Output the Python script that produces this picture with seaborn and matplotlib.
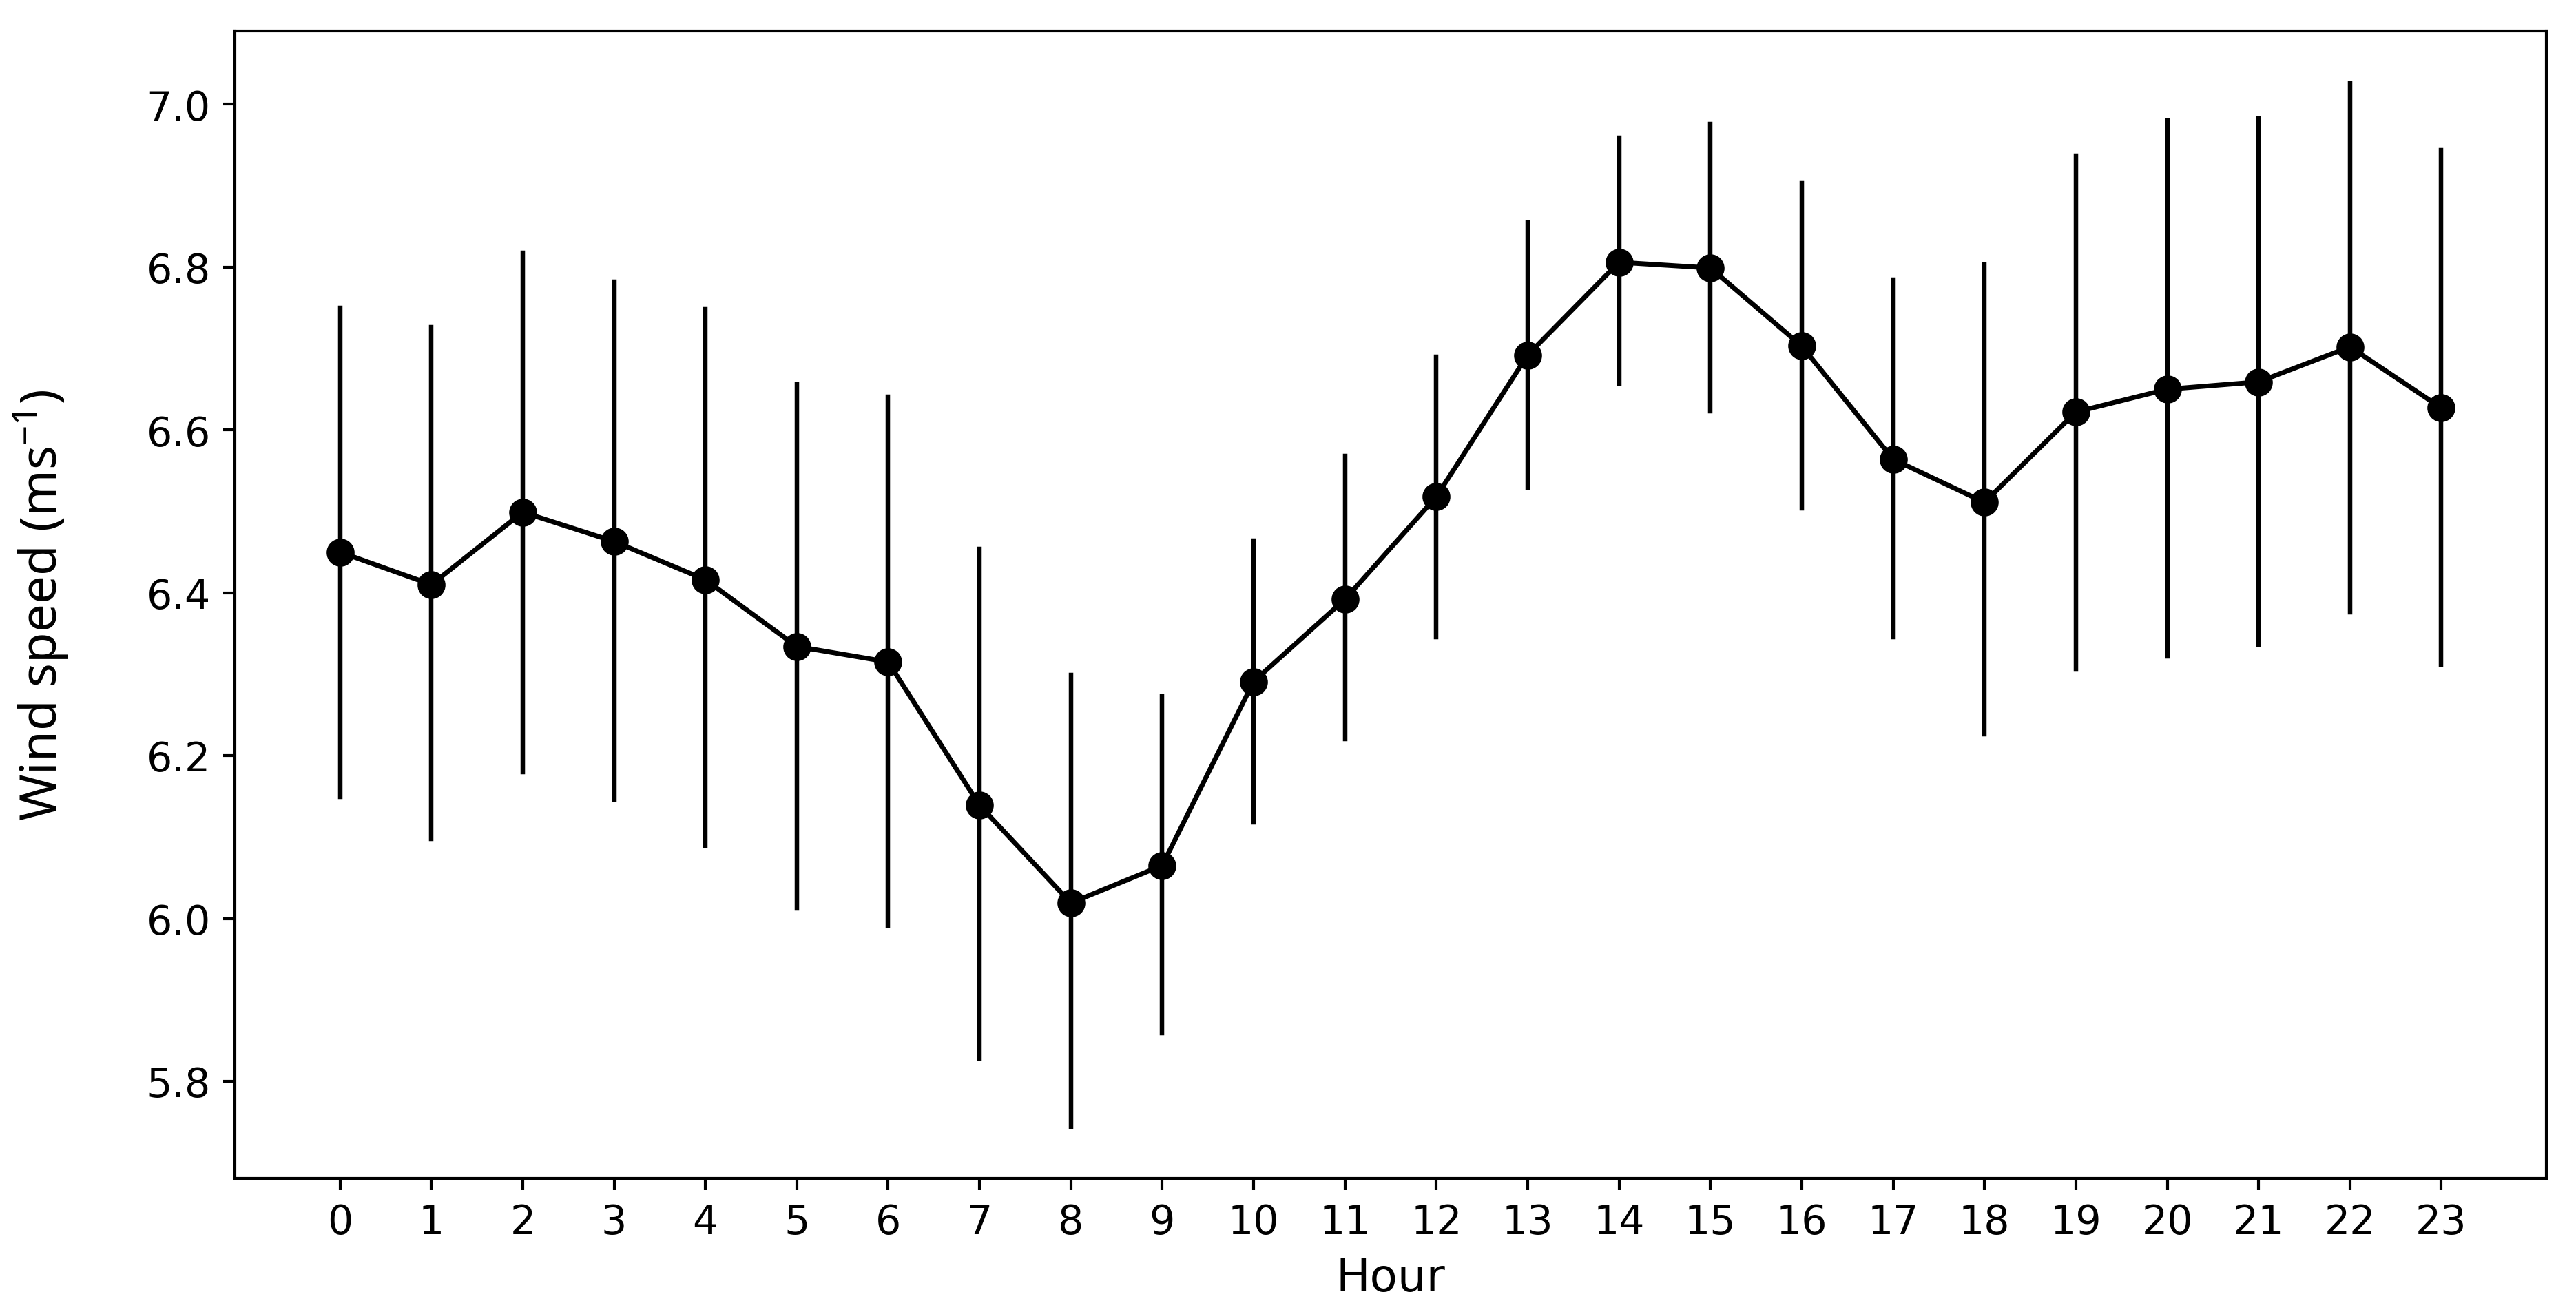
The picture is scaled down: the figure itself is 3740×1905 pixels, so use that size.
import matplotlib
matplotlib.use("Agg")
import matplotlib.pyplot as plt
import seaborn as sns
import pandas as pd

hours = list(range(24))
mean_speed = [6.450, 6.410, 6.499, 6.463, 6.416, 6.334, 6.315, 6.139, 6.019, 6.065,
              6.291, 6.392, 6.518, 6.692, 6.806, 6.799, 6.703, 6.564, 6.511, 6.622,
              6.650, 6.659, 6.702, 6.627]
upper_speed = [6.750, 6.726, 6.818, 6.782, 6.748, 6.656, 6.641, 6.454, 6.299, 6.273,
               6.464, 6.568, 6.690, 6.855, 6.959, 6.976, 6.903, 6.785, 6.803, 6.937,
               6.980, 6.983, 7.026, 6.944]
lower_speed = [6.149, 6.098, 6.180, 6.146, 6.089, 6.012, 5.991, 5.828, 5.744, 5.859,
               6.118, 6.220, 6.346, 6.529, 6.657, 6.623, 6.504, 6.346, 6.226, 6.306,
               6.322, 6.336, 6.376, 6.312]

plt.rcParams['font.family'] = ['DejaVu Sans']
plt.rcParams['mathtext.fontset'] = 'custom'
plt.rcParams['mathtext.rm'] = 'Noto Sans'
plt.rcParams['mathtext.it'] = 'Noto Sans:italic'
plt.rcParams['mathtext.bf'] = 'Noto Sans:bold'

# long-form table: low, mean, high per hour -> median gives mean, full pi gives the bar
rows = []
for h, lo, m, hi in zip(hours, lower_speed, mean_speed, upper_speed):
    for v in (lo, m, hi):
        rows.append({"Hour": h, "speed": v})
df = pd.DataFrame(rows)

fig = plt.figure(figsize=(10, 5.096), dpi=374)
ax = fig.add_axes([0.0912, 0.1020, 0.9885 - 0.0912, 0.9759 - 0.1020])

sns.pointplot(data=df, x="Hour", y="speed", order=hours, estimator="median",
              errorbar=("pi", 100), color="black", markers="o",
              markersize=6.8, linewidth=1.35, err_kws={"linewidth": 1.25}, ax=ax)

ax.set_xlim(-1.15, 24.15)
ax.set_ylim(5.681, 7.090)
ax.set_yticks([5.8, 6.0, 6.2, 6.4, 6.6, 6.8, 7.0])
ax.set_yticklabels(["5.8", "6.0", "6.2", "6.4", "6.6", "6.8", "7.0"])
ax.tick_params(axis="both", labelsize=11.3, length=3.3, width=0.8)
for s in ax.spines.values():
    s.set_visible(True)
    s.set_linewidth(0.8)
    s.set_color("black")
ax.grid(False)

ax.set_xlabel("Hour", fontsize=12.7, labelpad=4)
ax.set_ylabel("Wind speed (ms$^{-1}$)", fontsize=14, family=["Noto Sans", "DejaVu Sans"],
              labelpad=21)

fig.savefig("out.png", dpi=374)
